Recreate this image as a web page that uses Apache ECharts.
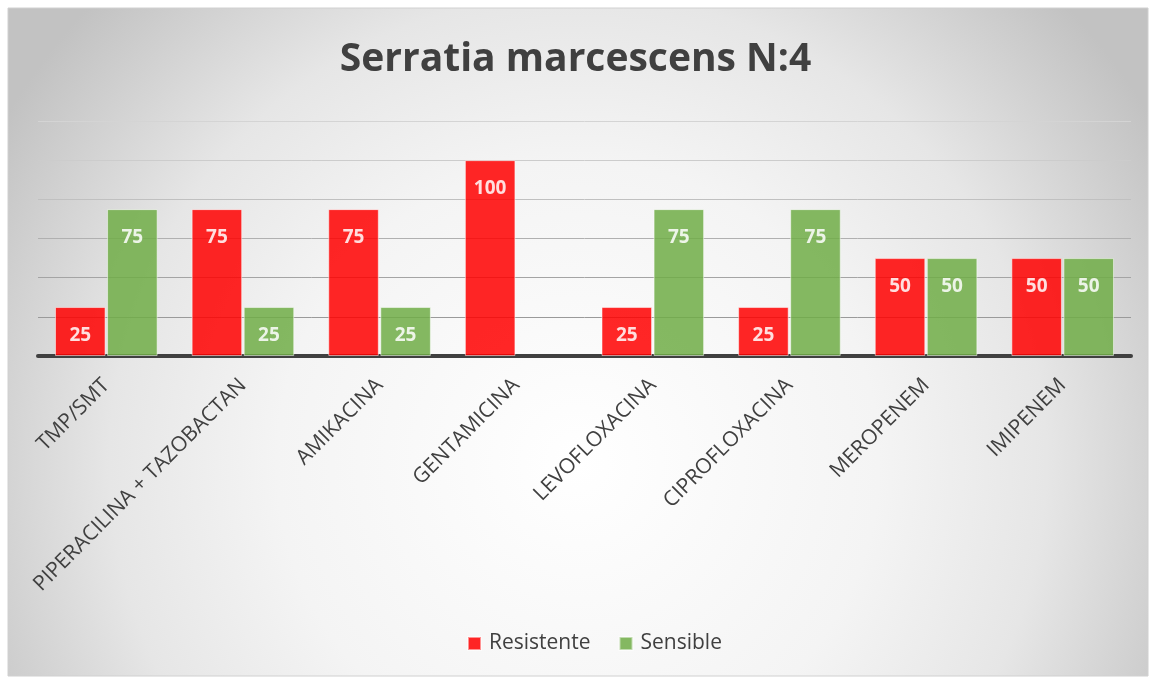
<!DOCTYPE html>
<html>
<head>
<meta charset="utf-8">
<script src="https://cdn.jsdelivr.net/npm/echarts@6/dist/echarts.min.js"></script>
<style>
  html, body { margin: 0; padding: 0; background: #fff; }
  #chart { width: 1151px; height: 677px; }
</style>
</head>
<body>
<div id="chart"></div>
<script>
var categories = ['TMP/SMT', 'PIPERACILINA + TAZOBACTAN', 'AMIKACINA', 'GENTAMICINA',
  'LEVOFLOXACINA', 'CIPROFLOXACINA', 'MEROPENEM', 'IMIPENEM'];
var resistente = [25, 75, 75, 100, 25, 25, 50, 50];
var sensible = [75, 25, 25, null, 75, 75, 50, 50];

var chart = echarts.init(document.getElementById('chart'));

var labelStyle = {
  show: true,
  position: 'insideTop',
  distance: 19,
  color: '#fff',
  fontFamily: 'Open Sans',
  fontWeight: 'bold',
  fontSize: 19
};

chart.setOption({
  animation: false,
  backgroundColor: '#fff',
  graphic: [{
    type: 'rect',
    z: -10,
    silent: true,
    shape: { x: 8, y: 8, width: 1140, height: 668 },
    style: {
      fill: new echarts.graphic.RadialGradient(0.5, 0.68, 1.0, [
        { offset: 0, color: '#ffffff' },
        { offset: 0.45, color: '#f4f4f4' },
        { offset: 0.7, color: '#e6e6e6' },
        { offset: 0.85, color: '#d4d4d4' },
        { offset: 1, color: '#c2c2c2' }
      ]),
      stroke: '#d0d0d0',
      lineWidth: 1
    }
  }],
  title: {
    text: 'Serratia marcescens N:4',
    left: 'center',
    top: 35,
    textStyle: {
      fontFamily: 'Open Sans',
      fontWeight: 'bold',
      fontSize: 39,
      color: '#404040'
    }
  },
  legend: {
    bottom: 18,
    left: 462,
    itemWidth: 13,
    itemHeight: 13,
    itemGap: 28,
    icon: 'rect',
    textStyle: { fontFamily: 'Open Sans', fontSize: 21, color: '#404040', padding: [0, 0, 0, 3] },
    data: ['Resistente', 'Sensible']
  },
  grid: { left: 38, right: 20, top: 121, bottom: 321 },
  xAxis: {
    type: 'category',
    data: categories,
    axisLine: { lineStyle: { color: '#404040', width: 4 } },
    axisTick: { show: false },
    axisLabel: {
      rotate: 45,
      interval: 0,
      margin: 26,
      fontFamily: 'Open Sans',
      fontSize: 21,
      color: '#404040'
    }
  },
  yAxis: {
    type: 'value',
    min: 0,
    max: 120,
    interval: 20,
    axisLabel: { show: false },
    axisLine: { show: false },
    axisTick: { show: false },
    splitLine: {
      lineStyle: {
        color: ['#9a9a9a', '#9a9a9a', '#a4a4a4', '#b0b0b0', '#c0c0c0', '#cccccc', '#d4d4d4'],
        width: 1
      }
    }
  },
  series: [{
    name: 'Resistente',
    type: 'bar',
    data: resistente,
    barWidth: '37%',
    barGap: '3%',
    itemStyle: { color: '#ff0000', opacity: 0.85, borderColor: 'rgba(255,255,255,0.6)', borderWidth: 1 },
    label: labelStyle
  }, {
    name: 'Sensible',
    type: 'bar',
    data: sensible,
    barWidth: '37%',
    itemStyle: { color: '#70ad47', opacity: 0.85, borderColor: 'rgba(255,255,255,0.6)', borderWidth: 1 },
    label: labelStyle
  }]
});
</script>
</body>
</html>
